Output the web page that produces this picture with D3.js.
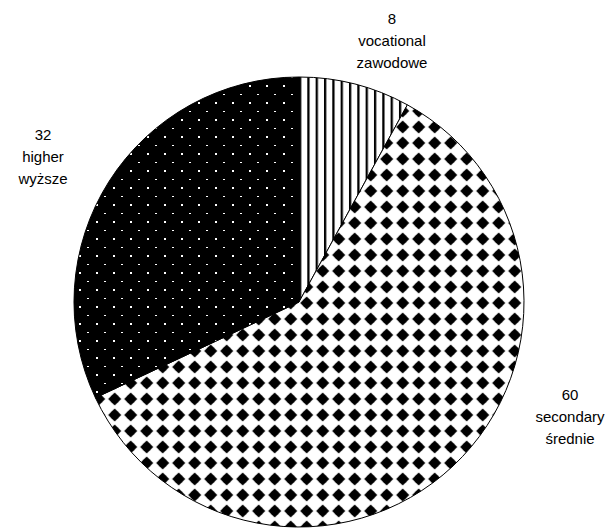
<!DOCTYPE html>
<html>
<head>
<meta charset="utf-8">
<script src="https://cdn.jsdelivr.net/npm/d3@7"></script>
<style>
  body { margin: 0; background: #fff; }
  text { font-family: "Liberation Sans", Arial, sans-serif; font-size: 15px; fill: #000; }
</style>
</head>
<body>
<div id="chart"></div>
<script>
// data
var categories = ["vocational", "secondary", "higher"];
var categoriesPl = ["zawodowe", "średnie", "wyższe"];
var values = [8, 60, 32];

var width = 611, height = 528;
var cx = 299, cy = 302, radius = 225;

var svg = d3.select("#chart").append("svg")
  .attr("width", width)
  .attr("height", height);

var defs = svg.append("defs");

// vertical stripes
var pStripes = defs.append("pattern")
  .attr("id", "stripes")
  .attr("patternUnits", "userSpaceOnUse")
  .attr("x", 307.3 - cx).attr("y", 0)
  .attr("width", 8.33).attr("height", 10);
pStripes.append("rect").attr("width", 8.33).attr("height", 10).attr("fill", "#fff");
pStripes.append("rect").attr("width", 2.3).attr("height", 10).attr("fill", "#000");

// diamonds
var pDiam = defs.append("pattern")
  .attr("id", "diamonds")
  .attr("patternUnits", "userSpaceOnUse")
  .attr("x", 386.7 - 8 - cx).attr("y", 255 - 8 - cy)
  .attr("width", 16).attr("height", 16);
pDiam.append("rect").attr("width", 16).attr("height", 16).attr("fill", "#fff");
pDiam.append("polygon")
  .attr("points", "8,1.5 14.5,8 8,14.5 1.5,8")
  .attr("fill", "#000");
pDiam.append("circle")
  .attr("cx", 8).attr("cy", 8).attr("r", 4.6)
  .attr("fill", "#000");

// dots on black (pixel aligned)
var pDots = defs.append("pattern")
  .attr("id", "dots")
  .attr("patternUnits", "userSpaceOnUse")
  .attr("x", 164 - cx).attr("y", 204 - cy)
  .attr("width", 17).attr("height", 17);
pDots.append("rect").attr("width", 17).attr("height", 17).attr("fill", "#000");
pDots.append("rect").attr("x", 0).attr("y", 0).attr("width", 2).attr("height", 2).attr("fill", "#fff");
pDots.append("rect").attr("x", 8).attr("y", 9).attr("width", 2).attr("height", 1).attr("fill", "#fff");

var fills = ["url(#stripes)", "url(#diamonds)", "url(#dots)"];

var pie = d3.pie().sort(null).value(function (d) { return d; });
var arc = d3.arc().innerRadius(0).outerRadius(radius);

var g = svg.append("g")
  .attr("transform", "translate(" + cx + "," + cy + ")");

g.selectAll(".slice")
  .data(pie(values))
  .enter().append("path")
  .attr("class", "slice")
  .attr("d", arc)
  .attr("fill", function (d, i) { return fills[i]; })
  .attr("stroke", "#000")
  .attr("stroke-width", 1);

// labels (positions in px)
var labelPos = [[392, 24], [570, 400], [43, 140]];
var lineGap = 22;

labelPos.forEach(function (p, i) {
  var t = svg.append("text")
    .attr("text-anchor", "middle")
    .attr("x", p[0])
    .attr("y", p[1]);
  [String(values[i]), categories[i], categoriesPl[i]].forEach(function (s, k) {
    t.append("tspan")
      .attr("x", p[0])
      .attr("dy", k === 0 ? 0 : lineGap)
      .text(s);
  });
});
</script>
</body>
</html>
